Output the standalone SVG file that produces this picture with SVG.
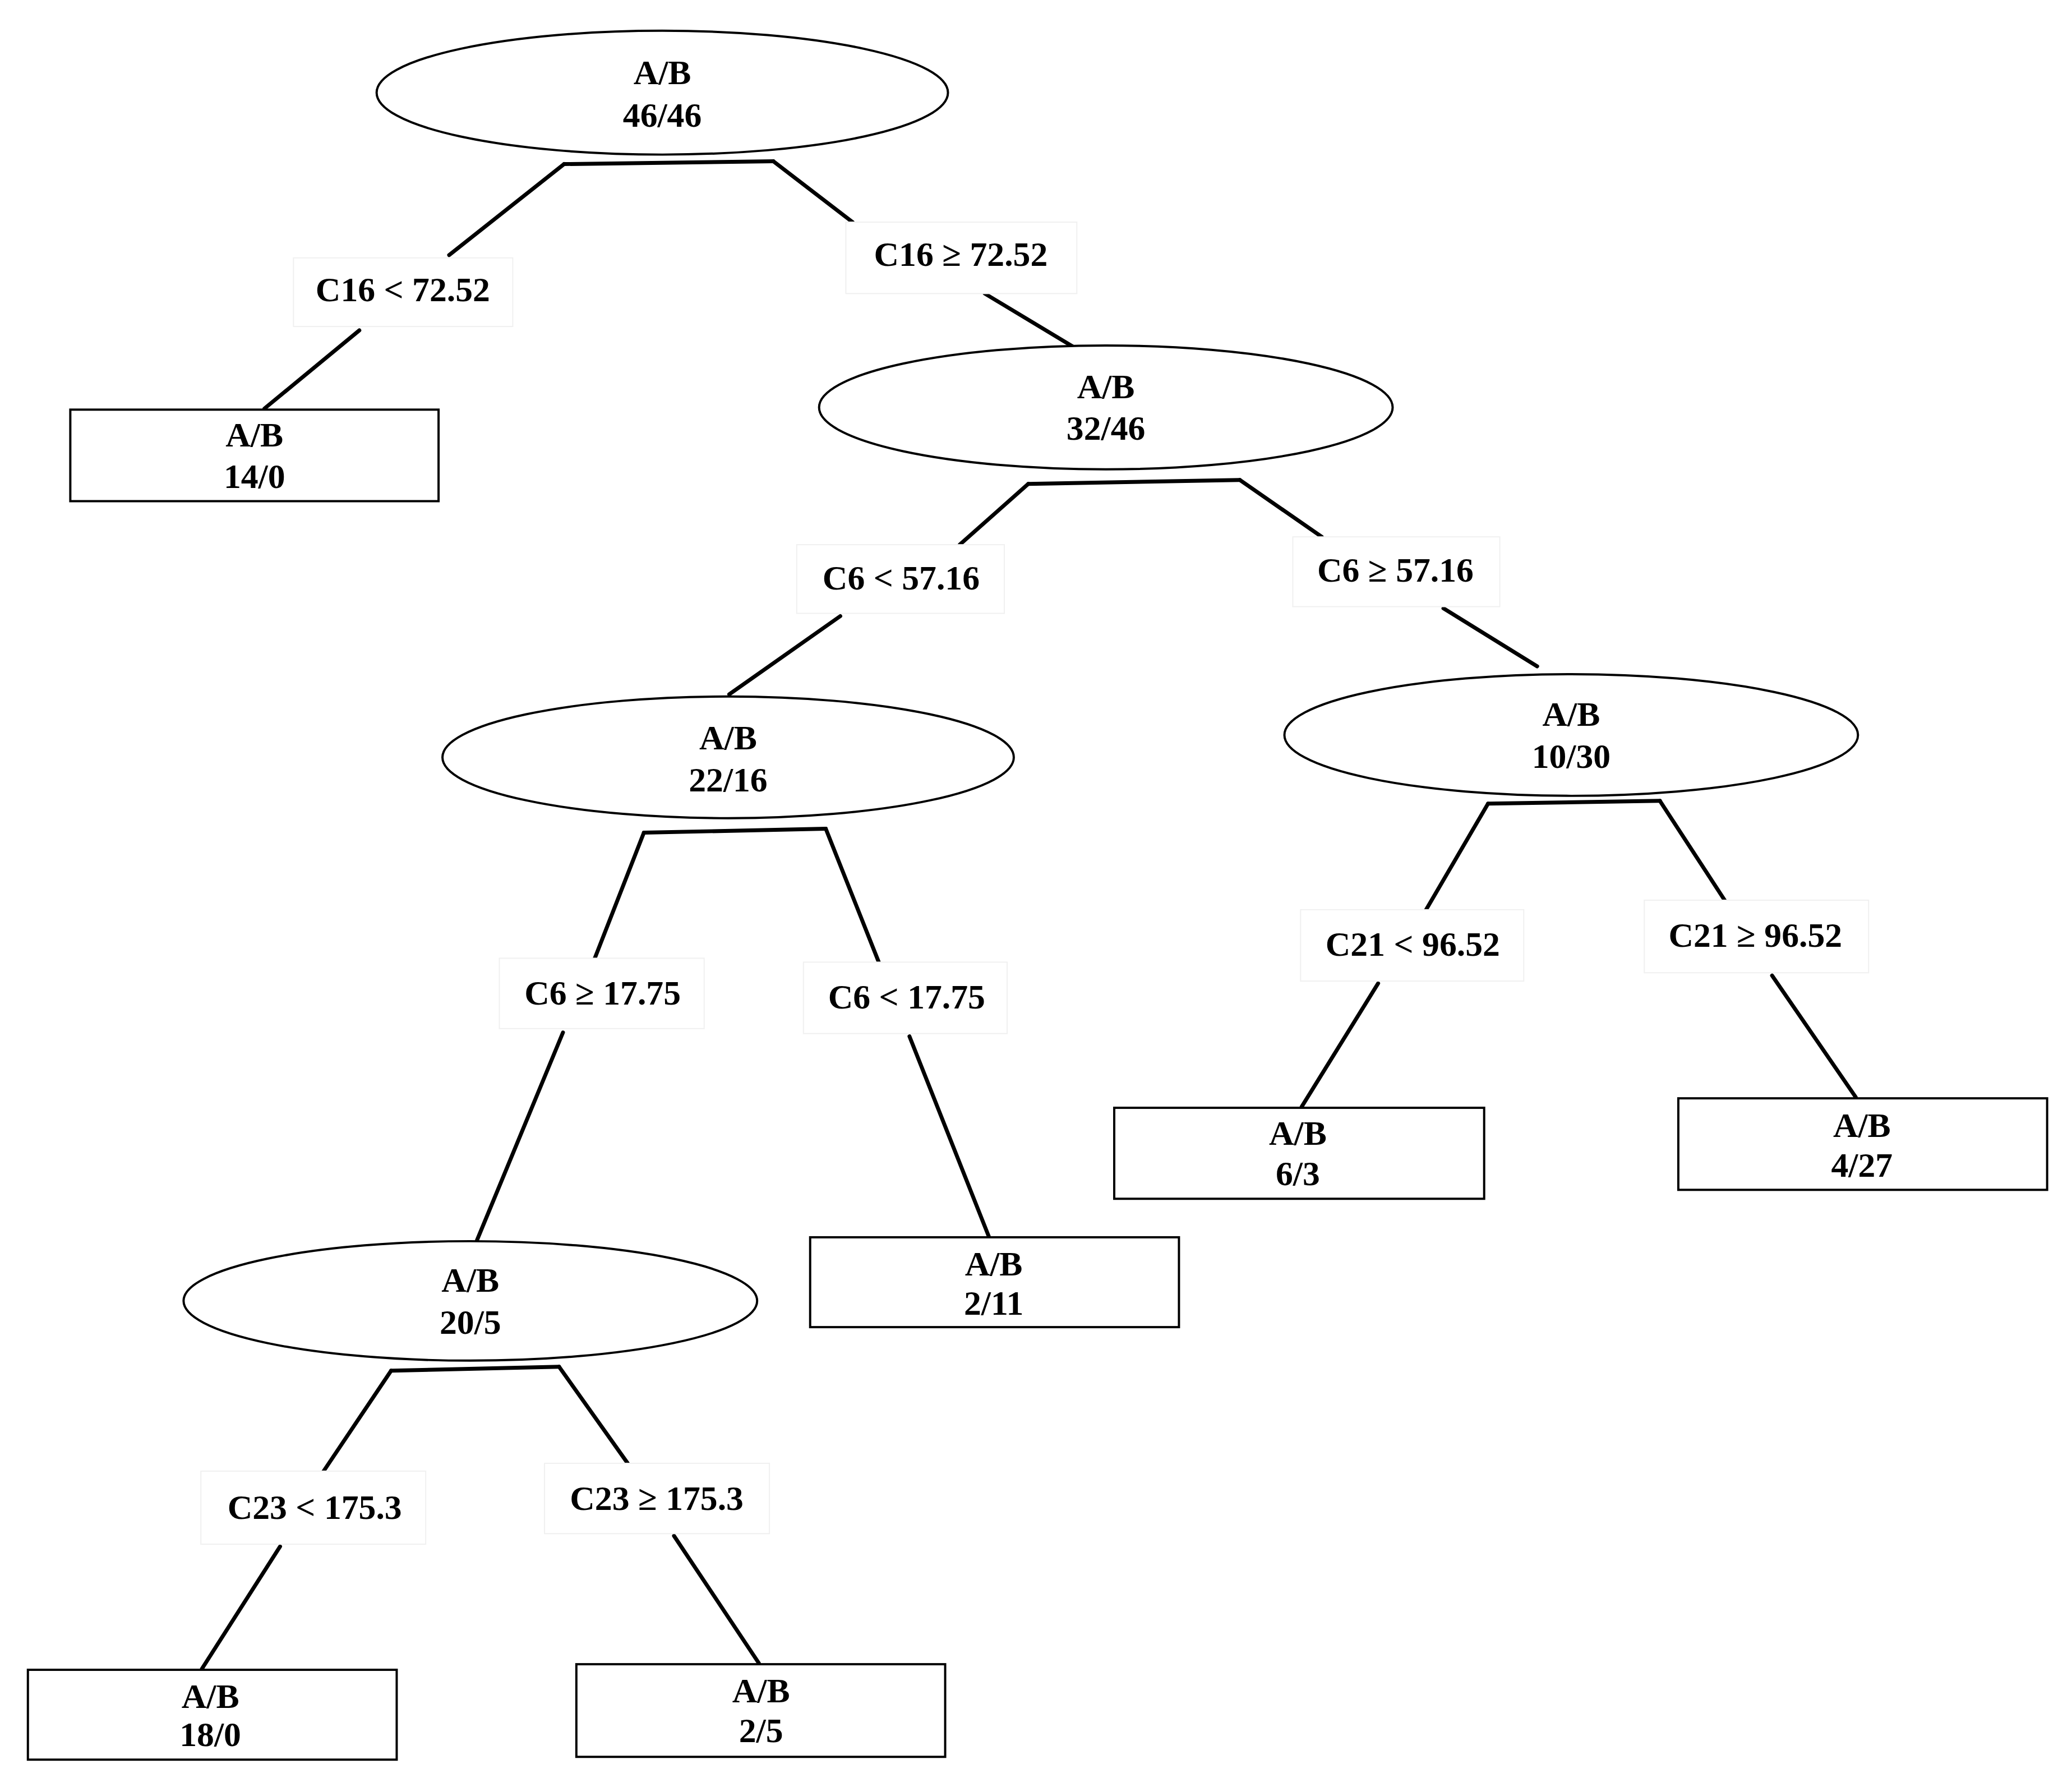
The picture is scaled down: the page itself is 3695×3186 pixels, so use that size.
<svg xmlns="http://www.w3.org/2000/svg" width="3695" height="3186" viewBox="0 0 3695 3186">
<style>
.n{fill:#fff;stroke:#000;stroke-width:4}
.lb{fill:#fff;stroke:#f0f0f0;stroke-width:2}
.c line{stroke:#000;stroke-width:7;stroke-linecap:round}
text{font-family:"Liberation Serif","Times New Roman",serif;font-weight:bold;font-size:62px;text-anchor:middle;dominant-baseline:central;fill:#000}
</style>
<rect width="3695" height="3186" fill="#fff"/>
<g transform="scale(0.995)">
<g class="c" id="connectors">
<line x1="1011" y1="294" x2="1386" y2="289"/>
<line x1="1011" y1="294" x2="805" y2="457"/>
<line x1="644" y1="592" x2="474" y2="732"/>
<line x1="1386" y1="289" x2="1528" y2="398"/>
<line x1="1765" y1="526" x2="1923" y2="621"/>
<line x1="1843" y1="867" x2="2222" y2="860"/>
<line x1="1843" y1="867" x2="1720" y2="976"/>
<line x1="1506" y1="1104" x2="1307" y2="1244"/>
<line x1="2222" y1="860" x2="2369" y2="962"/>
<line x1="2587" y1="1090" x2="2755" y2="1194"/>
<line x1="1154" y1="1492" x2="1480" y2="1485"/>
<line x1="1154" y1="1492" x2="1066" y2="1717"/>
<line x1="1009" y1="1850" x2="855" y2="2222"/>
<line x1="1480" y1="1485" x2="1575" y2="1724"/>
<line x1="1630" y1="1857" x2="1772" y2="2215"/>
<line x1="701" y1="2456" x2="1002" y2="2449"/>
<line x1="701" y1="2456" x2="580" y2="2636"/>
<line x1="502" y1="2771" x2="362" y2="2990"/>
<line x1="1002" y1="2449" x2="1125" y2="2622"/>
<line x1="1208" y1="2752" x2="1360" y2="2980"/>
<line x1="2667" y1="1440" x2="2975" y2="1435"/>
<line x1="2667" y1="1440" x2="2556" y2="1630"/>
<line x1="2470" y1="1762" x2="2333" y2="1983"/>
<line x1="2975" y1="1435" x2="3091" y2="1613"/>
<line x1="3176" y1="1748" x2="3326" y2="1966"/>
</g>
<g id="root"><ellipse class="n" cx="1187" cy="166" rx="512" ry="111"/><text x="1187" y="130">A/B</text><text x="1187" y="206">46/46</text></g>
<g id="lbl1"><rect class="lb" x="526" y="462" width="393" height="123"/><text x="722" y="519">C16 &lt; 72.52</text></g>
<g id="leaf1"><rect class="n" x="126" y="734" width="660" height="164"/><text x="456" y="779">A/B</text><text x="456" y="853">14/0</text></g>
<g id="lbl2"><rect class="lb" x="1516" y="398" width="414" height="128"/><text x="1722" y="455">C16 ≥ 72.52</text></g>
<g id="n2"><ellipse class="n" cx="1982" cy="730" rx="514" ry="111"/><text x="1982" y="692">A/B</text><text x="1982" y="767">32/46</text></g>
<g id="lbl3"><rect class="lb" x="1428" y="976" width="372" height="123"/><text x="1615" y="1035">C6 &lt; 57.16</text></g>
<g id="lbl4"><rect class="lb" x="2317" y="962" width="371" height="125"/><text x="2501" y="1021">C6 ≥ 57.16</text></g>
<g id="n3"><ellipse class="n" cx="1305" cy="1357" rx="512" ry="109"/><text x="1305" y="1322">A/B</text><text x="1305" y="1397">22/16</text></g>
<g id="n4"><ellipse class="n" cx="2816" cy="1317" rx="514" ry="109"/><text x="2816" y="1279">A/B</text><text x="2816" y="1355">10/30</text></g>
<g id="lbl5"><rect class="lb" x="895" y="1717" width="367" height="126"/><text x="1080" y="1779">C6 ≥ 17.75</text></g>
<g id="lbl6"><rect class="lb" x="1440" y="1724" width="365" height="128"/><text x="1625" y="1786">C6 &lt; 17.75</text></g>
<g id="leaf2"><rect class="n" x="1452" y="2217" width="661" height="161"/><text x="1781" y="2264">A/B</text><text x="1781" y="2335">2/11</text></g>
<g id="n5"><ellipse class="n" cx="843" cy="2331" rx="514" ry="107"/><text x="843" y="2293">A/B</text><text x="843" y="2369">20/5</text></g>
<g id="lbl7"><rect class="lb" x="360" y="2636" width="403" height="131"/><text x="564" y="2700">C23 &lt; 175.3</text></g>
<g id="lbl8"><rect class="lb" x="976" y="2622" width="403" height="126"/><text x="1177" y="2684">C23 ≥ 175.3</text></g>
<g id="leaf3"><rect class="n" x="50" y="2992" width="661" height="161"/><text x="377" y="3039">A/B</text><text x="377" y="3108">18/0</text></g>
<g id="leaf4"><rect class="n" x="1033" y="2982" width="661" height="166"/><text x="1364" y="3029">A/B</text><text x="1364" y="3101">2/5</text></g>
<g id="lbl9"><rect class="lb" x="2331" y="1630" width="400" height="128"/><text x="2532" y="1691">C21 &lt; 96.52</text></g>
<g id="lbl10"><rect class="lb" x="2947" y="1613" width="402" height="130"/><text x="3146" y="1675">C21 ≥ 96.52</text></g>
<g id="leaf5"><rect class="n" x="1997" y="1985" width="663" height="163"/><text x="2326" y="2030">A/B</text><text x="2326" y="2103">6/3</text></g>
<g id="leaf6"><rect class="n" x="3008" y="1968" width="661" height="164"/><text x="3337" y="2016">A/B</text><text x="3337" y="2087">4/27</text></g>
</g>
</svg>
